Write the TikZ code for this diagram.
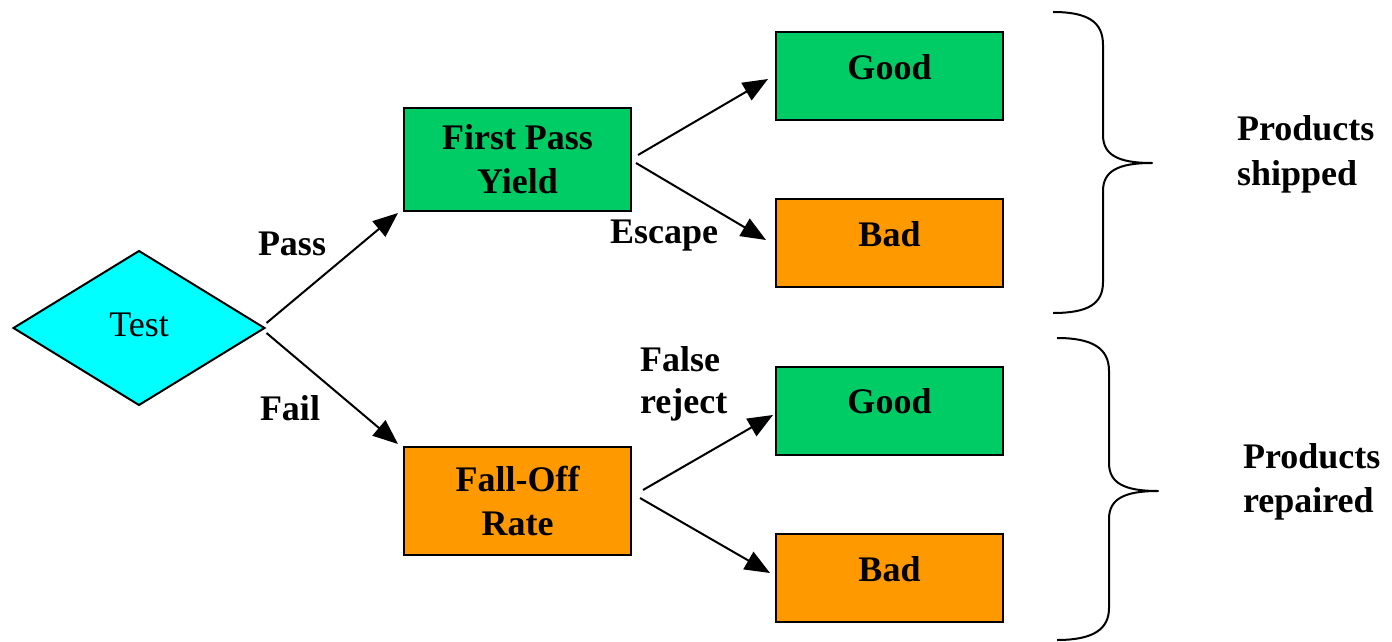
\documentclass[tikz,border=0pt]{standalone}
\usepackage{fontspec}
\setmainfont{Liberation Serif}
\usetikzlibrary{arrows.meta,shapes.geometric}

\definecolor{boxgreen}{RGB}{0,204,102}
\definecolor{boxorange}{RGB}{255,153,0}
\definecolor{testcyan}{RGB}{0,255,255}

\begin{document}
\begin{tikzpicture}[x=1pt,y=-1pt,
  every node/.style={inner sep=0pt, outer sep=0pt},
  lbl/.style={font=\fontsize{36}{44}\selectfont\bfseries},
  outcome/.style={draw, line width=2pt, minimum width=227pt, minimum height=88pt,
    lbl, text height=24pt, text depth=18pt},
  stage/.style={draw, line width=2pt, minimum width=227pt, align=center, lbl},
  flow/.style={line width=2pt, -{Triangle[length=25pt,width=20pt]}},
  brace/.style={line width=2pt, line join=round},
]
\useasboundingbox (0,0) rectangle (1392,642);

% decision
\node[diamond, draw, fill=testcyan, line width=2pt, minimum width=251pt,
  minimum height=154pt, font=\fontsize{36}{44}\selectfont,
  text height=24pt, text depth=8pt] (test) at (139,328) {Test};

% stages
\node[stage, fill=boxgreen, minimum height=103pt] (fpy) at (517.5,159) {First Pass\\Yield};
\node[stage, fill=boxorange, minimum height=108pt] (fall) at (517.5,501) {Fall-Off\\Rate};

% outcomes
\node[outcome, fill=boxgreen]  (goodA) at (889.5,76)    {Good};
\node[outcome, fill=boxorange] (badA)  at (889.5,243)   {Bad};
\node[outcome, fill=boxgreen]  (goodB) at (889.5,410.5) {Good};
\node[outcome, fill=boxorange] (badB)  at (889.5,578)   {Bad};

% connectors
\draw[flow] ([xshift=2pt,yshift=5pt]test.east) -- ([xshift=-6pt,yshift=-2.5pt]fpy.south west);
\draw[flow] ([xshift=2pt,yshift=-5pt]test.east) -- ([xshift=-6pt,yshift=3pt]fall.north west);
\draw[flow] ([xshift=7pt,yshift=4pt]fpy.east) -- ([xshift=-8pt,yshift=-3pt]goodA.west);
\draw[flow] ([xshift=5pt,yshift=-4pt]fpy.east) -- ([xshift=-10pt,yshift=3pt]badA.west);
\draw[flow] ([xshift=12pt,yshift=11pt]fall.east) -- ([xshift=-3pt,yshift=-4.5pt]goodB.west);
\draw[flow] ([xshift=9pt,yshift=3pt]fall.east) -- ([xshift=-6pt,yshift=5pt]badB.west);

% branch labels
\node[lbl, anchor=base west] (pass)   at (258,255) {Pass};
\node[lbl, anchor=base west] (fail)   at (260,420) {Fail};
\node[lbl, anchor=base west] (escape) at (610,243) {Escape};
\node[lbl, anchor=base west] (falseA) at (640,371) {False};
\node[lbl, anchor=base west] (falseB) at (640,413) {reject};

% braces
\draw[brace] (1053,12) .. controls (1088,12) and (1103,22) .. (1103,45)
  -- (1103,135) .. controls (1103,155) and (1118,163) .. (1152,163)
  .. controls (1118,163) and (1103,171) .. (1103,191)
  -- (1103,282) .. controls (1103,304) and (1088,313) .. (1053,313);
\draw[brace] (1057,338) .. controls (1092,338) and (1109,348) .. (1109,371)
  -- (1109,463) .. controls (1109,483) and (1124,491) .. (1158,491)
  .. controls (1124,491) and (1109,499) .. (1109,519)
  -- (1109,608) .. controls (1109,630) and (1092,640) .. (1057,640);

% group captions
\node[lbl, anchor=base west] (shipA)   at (1237,140) {Products};
\node[lbl, anchor=base west] (shipB)   at (1237,185) {shipped};
\node[lbl, anchor=base west] (repairA) at (1243,468) {Products};
\node[lbl, anchor=base west] (repairB) at (1243,512) {repaired};
\end{tikzpicture}
\end{document}
